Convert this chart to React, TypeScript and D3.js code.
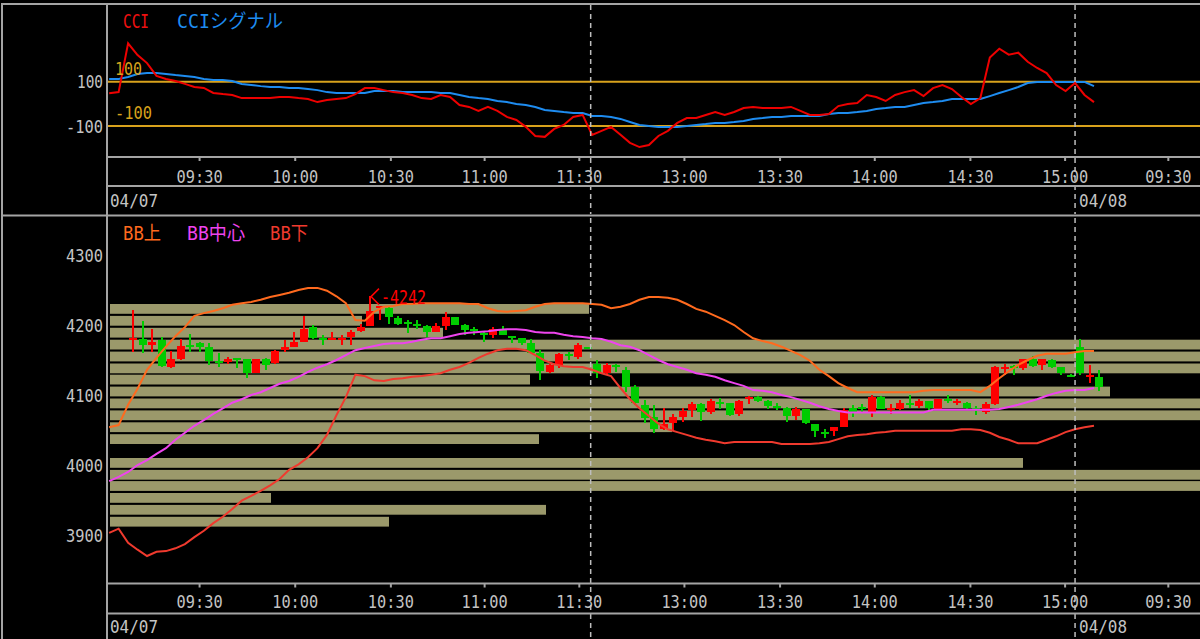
import React from "react";
import * as d3 from "d3";

// ---- candles (3-minute bars), index 0 = first visible bar ----
const candleOpen = [4179,4180,4171,4178,4140,4152,4171,4174,4168,4147,4147,4152,4151,4132,4151,4146,4164,4169,4176,4197,4180,4179,4179,4183,4192,4198,4224,4224,4210,4203,4201,4199,4190,4198,4211,4200,4193,4188,4186,4195,4183,4181,4174,4160,4133,4143,4157,4155,4168,4144,4131,4142,4136,4112,4086,4069,4052,4060,4068,4078,4087,4076,4089,4088,4073,4095,4097,4091,4083,4082,4070,4080,4058,4046,4048,4054,4082,4082,4075,4097,4078,4080,4087,4084,4091,4080,4094,4089,4089,4081,4076,4087,4138,4140,4138,4151,4143,4150,4140,4127,4168,4127,4126];
const candleHigh = [4222,4206,4194,4183,4163,4180,4187,4176,4175,4160,4155,4152,4152,4152,4153,4165,4179,4190,4213,4200,4186,4190,4186,4193,4202,4242,4227,4227,4213,4207,4207,4200,4203,4219,4211,4202,4197,4190,4197,4199,4184,4182,4180,4165,4144,4160,4162,4174,4168,4150,4146,4145,4140,4114,4093,4086,4081,4073,4082,4090,4088,4094,4096,4089,4093,4099,4098,4093,4088,4083,4083,4080,4059,4051,4055,4081,4086,4087,4100,4098,4087,4093,4100,4095,4091,4094,4100,4094,4090,4084,4090,4141,4144,4143,4152,4156,4152,4151,4140,4130,4180,4143,4136];
const candleLow = [4162,4160,4162,4140,4138,4150,4162,4162,4143,4140,4144,4138,4125,4131,4136,4145,4162,4169,4176,4180,4171,4179,4171,4171,4190,4198,4207,4202,4200,4188,4195,4183,4190,4193,4200,4186,4186,4176,4181,4186,4174,4171,4160,4121,4131,4138,4150,4152,4167,4125,4129,4133,4105,4086,4060,4046,4050,4048,4062,4068,4063,4073,4080,4070,4070,4087,4090,4080,4079,4061,4065,4059,4040,4038,4041,4054,4068,4076,4068,4080,4073,4079,4082,4081,4079,4079,4088,4086,4079,4071,4073,4086,4129,4129,4136,4140,4136,4138,4129,4126,4129,4117,4106];
const candleClose = [4180,4171,4176,4141,4152,4170,4168,4169,4148,4146,4152,4151,4132,4152,4143,4163,4169,4176,4194,4182,4179,4180,4180,4190,4197,4220,4227,4212,4202,4202,4200,4190,4199,4211,4200,4193,4192,4187,4195,4186,4182,4174,4160,4135,4143,4159,4156,4171,4167,4131,4143,4141,4112,4088,4067,4052,4059,4068,4077,4087,4076,4091,4088,4071,4091,4096,4092,4084,4082,4070,4080,4060,4048,4045,4055,4079,4075,4081,4097,4080,4081,4089,4086,4091,4082,4094,4093,4091,4082,4080,4087,4140,4139,4139,4152,4141,4152,4140,4131,4126,4131,4128,4111];

// ---- indicator lines, first value belongs to bar index lineStart ----
const lineStart = -2;
const bbUpper = [4054,4057,4086,4109,4136,4153,4169,4184,4197,4213,4217,4220,4224,4229,4231,4233,4236,4240,4243,4246,4250,4253,4253,4249,4241,4231,4207,4206,4219,4226,4227,4230,4230,4231,4231,4231,4231,4231,4230,4230,4224,4220,4219,4220,4221,4226,4230,4231,4231,4231,4231,4230,4229,4224,4226,4230,4236,4240,4240,4239,4236,4230,4223,4219,4213,4207,4200,4190,4181,4177,4174,4169,4163,4157,4149,4136,4127,4117,4110,4104,4104,4104,4104,4104,4104,4104,4106,4107,4107,4107,4107,4107,4104,4113,4124,4134,4143,4150,4156,4159,4159,4159,4161,4163,4163];
const bbMiddle = [3977,3983,3990,4000,4007,4016,4024,4036,4046,4056,4064,4073,4081,4089,4094,4100,4104,4110,4116,4120,4126,4133,4139,4144,4150,4157,4164,4167,4170,4173,4174,4174,4176,4179,4181,4181,4184,4187,4189,4190,4191,4193,4194,4194,4193,4190,4189,4189,4186,4184,4183,4181,4180,4176,4171,4169,4164,4157,4150,4144,4140,4136,4131,4129,4126,4121,4117,4113,4107,4106,4104,4100,4097,4093,4089,4084,4080,4077,4075,4075,4075,4075,4075,4075,4075,4075,4075,4079,4079,4079,4079,4079,4079,4079,4080,4083,4086,4090,4094,4099,4103,4106,4107,4107,4110];
const bbLower = [3903,3909,3889,3879,3870,3876,3877,3881,3887,3897,3906,3917,3926,3937,3949,3956,3963,3971,3980,3993,4001,4011,4024,4043,4071,4097,4129,4127,4121,4120,4123,4124,4126,4127,4129,4131,4136,4140,4146,4153,4159,4164,4166,4166,4164,4157,4149,4144,4141,4140,4140,4136,4131,4127,4110,4094,4081,4070,4059,4051,4047,4043,4039,4036,4034,4031,4033,4033,4033,4033,4033,4030,4030,4030,4030,4031,4033,4037,4041,4043,4044,4046,4047,4049,4049,4049,4049,4049,4049,4049,4051,4051,4050,4046,4040,4036,4031,4031,4031,4036,4041,4047,4051,4054,4056];
const cciValues = [48,53,273,220,184,126,112,103,90,76,72,49,44,40,26,26,26,26,31,31,26,22,8,17,22,26,44,71,71,62,53,49,40,26,22,40,31,-5,-14,-32,-14,-32,-59,-73,-104,-145,-149,-113,-95,-59,-50,-140,-122,-104,-140,-176,-195,-186,-145,-122,-86,-64,-64,-50,-37,-50,-37,-19,-14,-19,-19,-19,-14,-32,-50,-50,-46,-10,-1,4,40,31,13,40,53,62,35,71,85,67,31,-1,26,209,249,222,231,190,162,139,85,58,94,40,8];
const cciSignal = [112,112,121,135,139,139,135,130,126,121,112,108,108,103,90,85,80,76,76,72,72,67,62,53,49,49,49,49,58,58,58,53,53,53,53,49,49,40,31,26,22,13,8,-1,-5,-14,-28,-32,-37,-41,-41,-55,-55,-59,-68,-82,-95,-100,-104,-104,-104,-100,-95,-91,-86,-86,-82,-77,-68,-64,-59,-59,-55,-55,-55,-55,-46,-41,-41,-37,-32,-23,-19,-14,-14,-5,4,8,13,22,22,22,22,35,49,62,76,94,99,99,99,99,99,99,80];

// ---- price-by-volume profile ----
const profilePrices = [4223,4206,4189,4172,4155,4138,4122,4105,4088,4071,4054,4037,4020,4003,3986,3970,3953,3936,3919];
const profileVolumes = [479,252,333,1200,1250,1300,420,1000,1350,1150,562,429,0,913,1180,1220,161,436,279];
const profileBin = 16.86;

// ---- axes ----
const priceTicks = [4300, 4200, 4100, 4000, 3900];
const cciLevels = [100, -100];
const timeTickLabels = ["09:30","10:00","10:30","11:00","11:30","13:00","13:30","14:00","14:30","15:00","09:30"];
const timeTickSlots = [7, 17.1, 27.2, 37.1, 47.1, 58.2, 68.3, 78.3, 88.4, 98.4, 109.3];
const sessionBreakSlots = [48.3, 99.45];
const dateLabels = ["04/07", "04/08"];
const highMarkIndex = 25;

const FONT = "'DejaVu Sans Mono', 'Noto Sans CJK JP', monospace";
const FRAME = "#a4a4a4";
const TEXT = "#c4c4c4";
const UP = "#ff0000";
const DOWN = "#00cc00";

export default function App() {
  const W = 1200, H = 639;
  const plotL = 108, plotR = 1200;
  const topT = 5, topB = 156;
  const botT = 217, botB = 583;

  const x = d3.scaleLinear().domain([0, 102]).range([133.3, 1099.2]);
  const yP = d3.scaleLinear().domain([3900, 4300]).range([535, 255]);
  const yC = d3.scaleLinear().domain([-100, 100]).range([126, 81.7]);
  const xVol = d3.scaleLinear().domain([0, 1000]).range([110, 1110]);
  const lx = (i: number) => x(i + lineStart - 0.55);

  const priceLine = d3.line<number>().x((_, i) => lx(i)).y((v) => yP(v));
  const cciLine = d3.line<number>().x((_, i) => lx(i)).y((v) => yC(v));

  const txt = (s: string, px: number, py: number, len: number, fill: string, anchor = "start", size = 18) => (
    <text x={px} y={py} fill={fill} fontFamily={FONT} fontSize={size} textAnchor={anchor}
      dominantBaseline="central" textLength={len} lengthAdjust="spacingAndGlyphs">{s}</text>
  );

  const hiX = Math.round(x(highMarkIndex));
  const hiY = yP(candleHigh[highMarkIndex]);

  return (
    <svg width={W} height={H} style={{ position: "fixed", left: 0, top: 0, background: "#000" }}>
      <defs>
        <clipPath id="clipTop"><rect x={plotL} y={topT} width={plotR - plotL} height={topB - topT} /></clipPath>
        <clipPath id="clipBot"><rect x={plotL} y={botT} width={plotR - plotL} height={botB - botT} /></clipPath>
      </defs>
      <rect x={0} y={0} width={W} height={H} fill="#000" />

      {/* ===== TOP PANEL (CCI) ===== */}
      <g clipPath="url(#clipTop)">
        {cciLevels.map((lv) => (
          <line key={lv} x1={plotL} x2={plotR} y1={yC(lv)} y2={yC(lv)} stroke="#d8a21c" strokeWidth={2} />
        ))}
        <path d={cciLine(cciSignal) || ""} fill="none" stroke="#1e8cf0" strokeWidth={2} />
        <path d={cciLine(cciValues) || ""} fill="none" stroke="#ee0000" strokeWidth={2} />
      </g>
      {txt("100", 115, yC(100) - 13, 27, "#d8a21c")}
      {txt("-100", 115, yC(-100) - 14, 37, "#d8a21c")}
      {txt("CCI", 123, 21, 26, "#ee1010", "start", 19)}
      {txt("CCIシグナル", 177, 21, 106, "#1e8cf0", "start", 19)}
      {cciLevels.map((lv) => (
        <g key={"yl" + lv}>{txt(String(lv), 103, yC(lv), lv < 0 ? 37 : 26, TEXT, "end")}</g>
      ))}

      {/* ===== BOTTOM PANEL (price) ===== */}
      <g clipPath="url(#clipBot)">
        {profilePrices.map((p, k) => {
          const yt = yP(p + profileBin / 2);
          const yb = yP(p - profileBin / 2);
          return profileVolumes[k] > 0 ? (
            <rect key={"pv" + k} x={xVol(0)} y={yt + 1} width={xVol(profileVolumes[k]) - xVol(0)}
              height={yb - yt - 2} fill="#9b996b" />
          ) : null;
        })}
        {candleOpen.map((o, i) => {
          const c = candleClose[i];
          const col = c >= o ? UP : DOWN;
          const cx = Math.round(x(i));
          const yTop = yP(Math.max(o, c));
          const yBot = yP(Math.min(o, c));
          const bh = Math.max(2, yBot - yTop);
          return (
            <g key={"c" + i} shapeRendering="crispEdges">
              <rect x={cx - 1} y={yP(candleHigh[i])} width={2} height={Math.max(1, yP(candleLow[i]) - yP(candleHigh[i]))} fill={col} />
              <rect x={cx - 4} y={bh === 2 ? (yTop + yBot) / 2 - 1 : yTop} width={8} height={bh} fill={col} />
            </g>
          );
        })}
        <path d={priceLine(bbLower) || ""} fill="none" stroke="#f03a2e" strokeWidth={2} />
        <path d={priceLine(bbMiddle) || ""} fill="none" stroke="#ee44ee" strokeWidth={2} />
        <path d={priceLine(bbUpper) || ""} fill="none" stroke="#ff6a1e" strokeWidth={2} />
        <polyline points={`${hiX + 9},${hiY - 7} ${hiX + 1},${hiY + 1} ${hiX + 9},${hiY + 9}`} fill="none" stroke={UP} strokeWidth={1.5} />
        {txt("-" + candleHigh[highMarkIndex], hiX + 11, hiY + 1, 45, UP, "start", 19)}
      </g>
      {txt("BB上", 123, 233, 38, "#ff6a1e", "start", 19)}
      {txt("BB中心", 187, 233, 58, "#ee44ee", "start", 19)}
      {txt("BB下", 270, 233, 38, "#f03a2e", "start", 19)}
      {priceTicks.map((p) => (
        <g key={"pt" + p}>{txt(String(p), 103, yP(p), 37, TEXT, "end")}</g>
      ))}

      {/* ===== session break dashed lines ===== */}
      {sessionBreakSlots.map((s, k) => (
        <g key={"sb" + k}>
          <line x1={x(s)} x2={x(s)} y1={5} y2={214} stroke="#bdbdbd" strokeWidth={1.5} strokeDasharray="5 4" />
          <line x1={x(s)} x2={x(s)} y1={218} y2={H} stroke="#bdbdbd" strokeWidth={1.5} strokeDasharray="5 4" />
        </g>
      ))}

      {/* ===== frames ===== */}
      <g stroke={FRAME} strokeWidth={2} fill="none">
        <line x1={2} x2={2} y1={3} y2={H} />
        <line x1={2} x2={W} y1={4} y2={4} />
        <line x1={107} x2={107} y1={4} y2={H} />
        <line x1={2} x2={W} y1={215.5} y2={215.5} />
        <line x1={107} x2={W} y1={157} y2={157} />
        <line x1={107} x2={W} y1={186} y2={186} />
        <line x1={107} x2={W} y1={583.5} y2={583.5} />
        <line x1={107} x2={W} y1={613.5} y2={613.5} />
      </g>

      {/* ===== time axes ===== */}
      {[{ base: 157, lab: 176.5, date: 200 }, { base: 583.5, lab: 601.5, date: 626 }].map((ax, a) => (
        <g key={"ax" + a}>
          {timeTickSlots.map((s, k) => (
            <g key={"tk" + k}>
              <line x1={x(s)} x2={x(s)} y1={ax.base} y2={ax.base + 4} stroke={FRAME} strokeWidth={2} />
              {txt(timeTickLabels[k], x(s), ax.lab, 46, TEXT, "middle")}
            </g>
          ))}
          {txt(dateLabels[0], 110, ax.date, 48, TEXT)}
          {txt(dateLabels[1], x(sessionBreakSlots[1]) + 4, ax.date, 48, TEXT)}
        </g>
      ))}
    </svg>
  );
}
